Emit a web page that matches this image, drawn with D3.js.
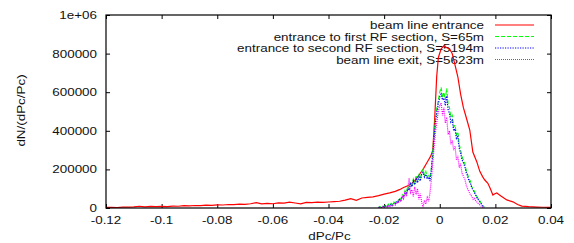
<!DOCTYPE html>
<html>
<head>
<meta charset="utf-8">
<script src="https://cdn.jsdelivr.net/npm/d3@7"></script>
<style>
    body { margin: 0; background: #fff; }
    text { font-family: "Liberation Sans", Arial, sans-serif; font-size: 11px; fill: #111; }
</style>
</head>
<body>
<div id="chart"></div>
<script>
// x ticks and y ticks
const xTicks = [-0.12, -0.1, -0.08, -0.06, -0.04, -0.02, 0, 0.02, 0.04];
const xTickLabels = ['-0.12', '-0.1', '-0.08', '-0.06', '-0.04', '-0.02', '0', '0.02', '0.04'];
const yTicks = [0, 200000, 400000, 600000, 800000, 1000000];
const yTickLabels = ['0', '200000', '400000', '600000', '800000', '1e+06'];

// beam line entrance (red)
const redX = [-0.120, -0.118, -0.116, -0.114, -0.112, -0.110, -0.108, -0.106, -0.104, -0.102,
    -0.100, -0.098, -0.096, -0.094, -0.092, -0.090, -0.088, -0.086, -0.084, -0.082,
    -0.080, -0.078, -0.076, -0.074, -0.072, -0.070, -0.068, -0.066, -0.064, -0.062,
    -0.060, -0.058, -0.056, -0.054, -0.052, -0.050, -0.048, -0.046, -0.044, -0.042,
    -0.040, -0.038, -0.036, -0.034, -0.032, -0.030, -0.028, -0.026, -0.024, -0.022,
    -0.020, -0.018, -0.016, -0.0145, -0.013, -0.0115, -0.010, -0.0085, -0.007, -0.006,
    -0.005, -0.004, -0.0032, -0.0025, -0.0018, -0.0011, -0.0005, 0.0005, 0.0015, 0.0025,
    0.0035, 0.0045, 0.0055, 0.0065, 0.0075, 0.0085, 0.0095, 0.0108, 0.0119, 0.0133,
    0.0144, 0.0155, 0.0162, 0.0173, 0.0182, 0.0191, 0.0198, 0.0205, 0.022, 0.0241,
    0.0263, 0.028, 0.0295, 0.032, 0.0349, 0.037, 0.040];
const redY = [3000, 4000, 2500, 5000, 4500, 6000, 9000, 5500, 8000, 7000,
    8500, 7500, 10000, 9000, 12000, 11000, 13000, 12500, 15000, 14000,
    16000, 15500, 18000, 17000, 20000, 19000, 22000, 28000, 21000, 24000,
    22000, 27000, 25000, 30000, 26000, 21000, 29000, 28000, 30000, 29000,
    31000, 33000, 35000, 41000, 48000, 40000, 52000, 55000, 58000, 64000,
    72000, 78000, 86000, 95000, 106000, 115000, 128000, 150000, 180000, 200000,
    225000, 250000, 270000, 300000, 470000, 680000, 780000, 825000, 840000, 830000,
    825000, 800000, 740000, 680000, 590000, 520000, 470000, 404000, 290000, 240000,
    190000, 160000, 145000, 128000, 100000, 67000, 74000, 78000, 62000, 42000,
    32000, 18000, 10000, 7000, 5000, 4000, 3000];

// narrow histograms: bins start at binStart, width binWidth
const binStart = -0.022;
const binWidth = 0.0005;
const greenY = [3000, 8000, 2000, 12000, 5000, 15000, 9000, 20000, 12000, 24000,
    18000, 32000, 25000, 40000, 33000, 52000, 45000, 70000, 62000, 90000,
    78000, 115000, 98000, 135000, 118000, 150000, 128000, 165000, 140000, 170000,
    150000, 185000, 200000, 170000, 190000, 160000, 175000, 150000, 210000, 300000,
    390000, 470000, 520000, 560000, 600000, 625000, 570000, 600000, 560000, 620000,
    540000, 520000, 470000, 480000, 420000, 430000, 380000, 395000, 330000, 300000,
    265000, 250000, 232000, 195000, 175000, 150000, 140000, 110000, 100000, 85000,
    70000, 55000, 45000, 35000, 22000, 12000, 4000];
const blueY = [2000, 5000, 1000, 8000, 4000, 10000, 6000, 14000, 9000, 18000,
    12000, 24000, 19000, 32000, 26000, 45000, 38000, 60000, 55000, 80000,
    70000, 100000, 92000, 125000, 110000, 140000, 120000, 150000, 130000, 160000,
    140000, 175000, 185000, 160000, 175000, 150000, 160000, 140000, 200000, 280000,
    370000, 450000, 500000, 540000, 575000, 590000, 560000, 570000, 530000, 580000,
    510000, 490000, 445000, 455000, 400000, 410000, 360000, 370000, 310000, 285000,
    250000, 235000, 215000, 185000, 165000, 140000, 130000, 105000, 92000, 78000,
    65000, 50000, 40000, 30000, 20000, 10000, 3000];
const magentaY = [1000, 3000, 500, 6000, 2000, 9000, 4000, 12000, 6000, 15000,
    10000, 22000, 15000, 30000, 24000, 42000, 35000, 60000, 48000, 85000,
    60000, 100000, 155000, 80000, 95000, 60000, 110000, 70000, 100000, 45000,
    75000, 30000, 5000, 40000, 20000, 55000, 35000, 80000, 150000, 230000,
    320000, 400000, 450000, 500000, 530000, 545000, 480000, 520000, 440000, 470000,
    380000, 400000, 330000, 350000, 300000, 320000, 250000, 270000, 210000, 230000,
    180000, 165000, 150000, 120000, 100000, 85000, 70000, 60000, 45000, 50000,
    35000, 30000, 20000, 15000, 8000, 4000, 1000];

const seriesNames = ['beam line entrance', 'entrance to first RF section, S=65m',
    'entrance to second RF section, S=5194m', 'beam line exit, S=5623m'];

class HistChart {
    constructor(div_id) {
        this.div_id = div_id;
        this.width = 574;
        this.height = 243;
        this.margin = { top: 15, right: 23, bottom: 35, left: 106 };
        this.stretch = 1.22; // text in the picture is wider than it is tall
        this.styles = [
            { color: '#ff0000', dash: null, w: 1.2 },
            { color: '#00ff00', dash: '4,2', w: 1.1 },
            { color: '#0000ff', dash: '1.2,1.3', w: 1.2 },
            { color: '#ff00ff', dash: '1,1', w: 1.2 }
        ];
    }

    buildSeries() {
        const bins = greenY.map((v, i) => binStart + i * binWidth);
        return [
            redX.map((x, i) => ({ x: x, y: redY[i] })),
            bins.map((x, i) => ({ x: x, y: greenY[i] })),
            bins.map((x, i) => ({ x: x, y: blueY[i] })),
            bins.map((x, i) => ({ x: x, y: magentaY[i] }))
        ];
    }

    // stretched text label
    label(parent, x, y, str, anchor, rotate) {
        let t = `translate(${x},${y})`;
        if (rotate) t += ` rotate(${rotate})`;
        t += ` scale(${this.stretch},1)`;
        return parent.append('text')
            .attr('transform', t)
            .attr('text-anchor', anchor)
            .text(str);
    }

    render() {
        const m = this.margin;
        const svg = d3.select(`#${this.div_id}`).append('svg')
            .attr('width', this.width)
            .attr('height', this.height)
            .style('display', 'block');

        const x = d3.scaleLinear().domain([-0.12, 0.04]).range([m.left, this.width - m.right]);
        const y = d3.scaleLinear().domain([0, 1000000]).range([this.height - m.bottom, m.top]);
        const x0 = x.range()[0], x1 = x.range()[1];
        const y0 = y.range()[0], y1 = y.range()[1];

        // ticks (inward, mirrored)
        const g = svg.append('g');
        const tl = 4;
        g.append('g').attr('transform', `translate(0,${y0})`)
            .call(d3.axisBottom(x).tickValues(xTicks).tickSizeInner(-tl).tickSizeOuter(0).tickFormat(''));
        g.append('g').attr('transform', `translate(0,${y1})`)
            .call(d3.axisTop(x).tickValues(xTicks).tickSizeInner(-tl).tickSizeOuter(0).tickFormat(''));
        g.append('g').attr('transform', `translate(${x0},0)`)
            .call(d3.axisLeft(y).tickValues(yTicks).tickSizeInner(-tl).tickSizeOuter(0).tickFormat(''));
        g.append('g').attr('transform', `translate(${x1},0)`)
            .call(d3.axisRight(y).tickValues(yTicks).tickSizeInner(-tl).tickSizeOuter(0).tickFormat(''));
        g.selectAll('.domain').remove();
        g.selectAll('.tick line').attr('stroke', '#000');
        g.selectAll('.tick text').remove();

        // tick labels
        xTicks.forEach((v, i) => this.label(svg, x(v), y0 + 16, xTickLabels[i], 'middle'));
        yTicks.forEach((v, i) => this.label(svg, x0 - 9, y(v) + 4, yTickLabels[i], 'end'));

        // axis titles
        this.label(svg, (x0 + x1) / 2 + 1, 240, 'dPc/Pc', 'middle');
        this.label(svg, 25, (y0 + y1) / 2 - 1, 'dN/(dPc/Pc)', 'middle', -90);

        // legend
        const key = svg.append('g');
        seriesNames.forEach((name, i) => {
            const ly = 25 + i * 11.5;
            this.label(key, 484, ly + 4, name, 'end');
            key.append('line')
                .attr('x1', 495).attr('x2', 534)
                .attr('y1', ly).attr('y2', ly)
                .attr('stroke', this.styles[i].color)
                .attr('stroke-width', this.styles[i].w)
                .attr('stroke-dasharray', this.styles[i].dash);
        });

        // curves
        svg.append('clipPath').attr('id', 'clip')
            .append('rect').attr('x', x0).attr('y', y1).attr('width', x1 - x0).attr('height', y0 - y1);
        const line = d3.line().x(d => x(d.x)).y(d => y(d.y));
        const curves = svg.append('g').attr('clip-path', 'url(#clip)');
        this.buildSeries().forEach((data, i) => {
            curves.append('path')
                .datum(data)
                .attr('fill', 'none')
                .attr('stroke', this.styles[i].color)
                .attr('stroke-width', this.styles[i].w)
                .attr('stroke-dasharray', this.styles[i].dash)
                .attr('d', line);
        });

        // frame
        svg.append('rect')
            .attr('x', x0).attr('y', y1)
            .attr('width', x1 - x0).attr('height', y0 - y1)
            .attr('fill', 'none')
            .attr('stroke', '#000')
            .attr('stroke-width', 1.2);
    }
}

new HistChart('chart').render();
</script>
</body>
</html>
